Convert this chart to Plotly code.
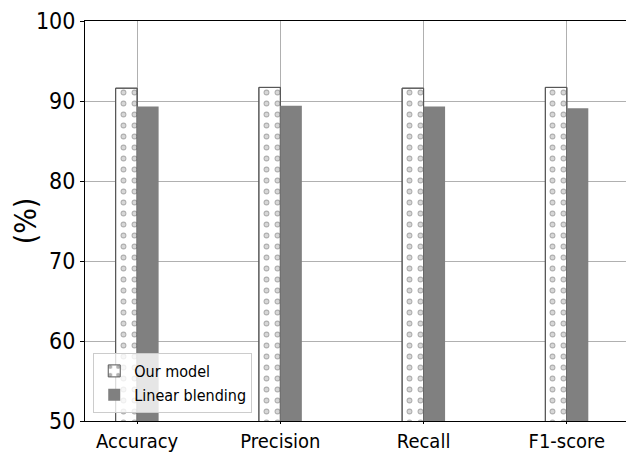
import plotly.graph_objects as go

categories = ["Accuracy", "Precision", "Recall", "F1-score"]
our_model = [91.6, 91.7, 91.6, 91.7]
linear_blending = [89.3, 89.4, 89.3, 89.1]
y_ticks = [50, 60, 70, 80, 90, 100]

FONT = "DejaVu Sans Condensed, Liberation Sans Narrow, DejaVu Sans"
BAR_W = 0.15

fig = go.Figure()
fig.add_trace(go.Bar(
    x=categories, y=our_model, name="Our model",
    width=BAR_W, offset=-BAR_W,
    marker=dict(color="white", line=dict(color="#555555", width=1),
                pattern=dict(shape=".", fgcolor="#606060", bgcolor="white",
                             size=11, solidity=0.22)),
))
fig.add_trace(go.Bar(
    x=categories, y=our_model, name="Our model rings", showlegend=False,
    width=BAR_W, offset=-BAR_W, hoverinfo="skip",
    marker=dict(color="rgba(0,0,0,0)", line=dict(color="#555555", width=1),
                pattern=dict(shape=".", fgcolor="white", bgcolor="rgba(0,0,0,0)",
                             size=11, solidity=0.09)),
))
fig.add_trace(go.Bar(
    x=categories, y=linear_blending, name="Linear blending",
    width=BAR_W, offset=0,
    marker=dict(color="#808080", line=dict(width=0)),
))

fig.update_layout(
    width=626, height=444,
    margin=dict(l=77, r=0, t=13, b=31),
    barmode="overlay",
    plot_bgcolor="white", paper_bgcolor="white",
    font=dict(family=FONT, color="black"),
    xaxis=dict(
        type="category", range=[-0.364, 3.469], automargin=False,
        showgrid=True, gridcolor="#b0b0b0", gridwidth=1,
        showline=True, linecolor="black", linewidth=1, mirror=True,
        ticks="outside", ticklen=2, tickcolor="black",
        tickfont=dict(size=20, family=FONT), zeroline=False,
    ),
    yaxis=dict(
        range=[50, 100], tickvals=y_ticks, automargin=False,
        showgrid=True, gridcolor="#b0b0b0", gridwidth=1,
        showline=True, linecolor="black", linewidth=1,
        ticks="outside", ticklen=4, tickcolor="black",
        tickfont=dict(size=23, family=FONT), zeroline=False,
        title=dict(text="(%)", font=dict(size=30, family=FONT), standoff=4),
    ),
    legend=dict(
        x=0.015, y=0.02, xanchor="left", yanchor="bottom",
        bgcolor="rgba(255,255,255,0.8)", bordercolor="#cccccc", borderwidth=1,
        font=dict(size=16, family=FONT),
        itemwidth=30,
    ),
)

fig.write_html("out.html")
